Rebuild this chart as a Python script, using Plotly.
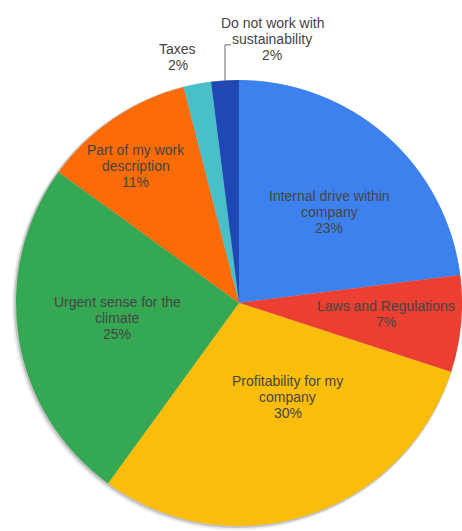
import math
import plotly.graph_objects as go

# Survey answers, clockwise from 12 o'clock
labels = [
    "Internal drive within<br>company",
    "Laws and Regulations",
    "Profitability for my<br>company",
    "Urgent sense for the<br>climate",
    "Part of my work<br>description",
    "Taxes",
    "Do not work with<br>sustainability",
]
values = [23, 7, 30, 25, 11, 2, 2]
colors = ["#3d81ef", "#ec3e31", "#fbbd0b", "#35a854", "#fb6b06", "#49bfc8", "#1f48b2"]

# label placement: distance from centre (fraction of radius) and turn off the slice bisector (deg)
label_radius = [0.575, 0.66, 0.475, 0.55, 0.77, 1.136, 1.194]
label_turn = [3.3, -1.1, -9.3, 2.0, -2.8, -3.2, 10.8]
leader = [False, False, False, False, False, False, True]

W, H = 462, 531
CX, CY, R = 239, 303, 223          # pie centre / radius in pixels
LINE_H = 16.3                      # label line spacing
FONT = dict(family="Liberation Sans, Arial, sans-serif", size=14, color="#454545")


def dom(cx, cy, r):
    """Pie domain for a pixel centre and radius."""
    return dict(
        x=[max(0.0, (cx - r) / W), min(1.0, (cx + r) / W)],
        y=[max(0.0, 1 - (cy + r) / H), min(1.0, 1 - (cy - r) / H)],
    )


def px(x):
    return x / W


def py(y):
    return 1 - y / H


fig = go.Figure()

# soft halo around the pie
for (dx, dy, dr), shade in [((-2, 2, 2), "#ececec"), ((-1, 1, 1), "#c4c4c4")]:
    fig.add_trace(go.Pie(
        values=[1], labels=[""], marker=dict(colors=[shade]),
        domain=dom(CX + dx, CY + dy, R + dr), textinfo="none", hoverinfo="skip",
        showlegend=False, sort=False,
    ))

fig.add_trace(go.Pie(
    labels=labels,
    values=values,
    sort=False,
    direction="clockwise",
    rotation=0,
    marker=dict(colors=colors, line=dict(width=0)),
    textinfo="none",
    domain=dom(CX, CY, R),
    showlegend=False,
    hoverinfo="label+value",
))

# slice labels
total = sum(values)
start = 0.0
shapes = []
annotations = []
for lab, val, lr, turn, lead in zip(labels, values, label_radius, label_turn, leader):
    mid = (start + val / 2) / total * 360.0
    start += val
    ang = math.radians(mid + turn)
    lx = CX + lr * R * math.sin(ang)
    ly = CY - lr * R * math.cos(ang)
    lines = lab.split("<br>") + [f"{val}%"]
    n = len(lines)
    for i, line in enumerate(lines):
        annotations.append(dict(
            text=line, x=px(lx), y=py(ly + (i - (n - 1) / 2) * LINE_H),
            xref="paper", yref="paper", showarrow=False,
            xanchor="center", yanchor="middle", font=FONT,
        ))
    if lead:
        a = math.radians(mid)
        ex = CX + R * math.sin(a)
        ey = CY - R * math.cos(a)
        ty = ly + 6
        shapes.append(dict(
            type="path", xref="paper", yref="paper",
            path=f"M {px(ex)},{py(ey)} L {px(ex)},{py(ty)} L {px(ex + 6)},{py(ty)}",
            line=dict(color="#6b6b6b", width=1),
        ))

fig.update_layout(
    width=W,
    height=H,
    margin=dict(l=0, r=0, t=0, b=0),
    paper_bgcolor="white",
    plot_bgcolor="white",
    showlegend=False,
    annotations=annotations,
    shapes=shapes,
)

fig.write_html("out.html")
